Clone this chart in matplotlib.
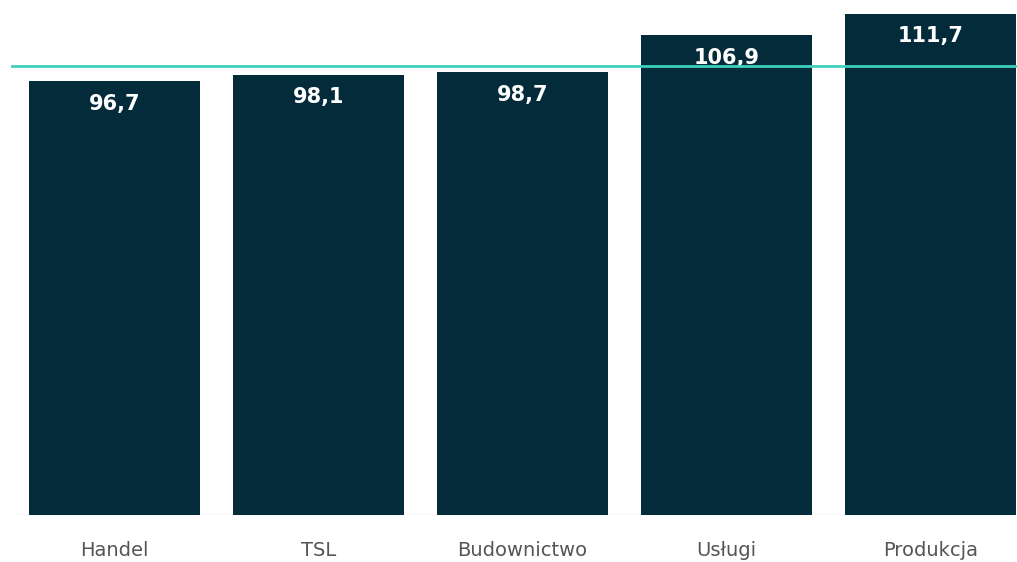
import matplotlib
matplotlib.use("Agg")
import matplotlib.pyplot as plt

categories = ["Handel", "TSL", "Budownictwo", "Usługi", "Produkcja"]
values = [96.7, 98.1, 98.7, 106.9, 111.7]
labels = ["96,7", "98,1", "98,7", "106,9", "111,7"]
reference = 100

bar_color = "#032b39"
line_color = "#3ed2bc"

fig = plt.figure(figsize=(10.17, 5.62), dpi=100)
ax = fig.add_axes([0, 47 / 562, 1, 1 - 47 / 562])

x = range(len(categories))
ax.bar(x, values, width=0.835, color=bar_color, zorder=2)

for xi, v, lab in zip(x, values, labels):
    ax.text(xi, v - 5.0, lab, ha="center", va="center", color="white",
            fontsize=15, fontweight="heavy", zorder=3)

ax.set_xlim(-0.561, 4.424)
ax.set_ylim(0, 114.8)

# reference line and light baseline
ax.plot([-0.5, 4.424], [reference, reference], color=line_color, lw=2, zorder=4)
ax.plot([-0.5, 4.424], [0, 0], color="#dddddd", lw=1, zorder=1)

ax.set_xticks(list(x))
ax.set_xticklabels(categories, fontsize=14, color="#555555")
ax.tick_params(axis="x", length=0, pad=19)
ax.set_yticks([])
for s in ax.spines.values():
    s.set_visible(False)

fig.savefig("out.png", dpi=100)
